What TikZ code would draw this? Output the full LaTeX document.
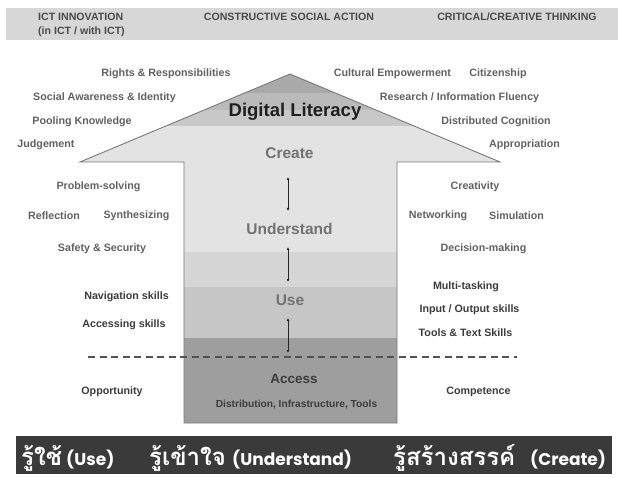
\documentclass[tikz,border=0pt]{standalone}
\usepackage{fontspec}
\setmainfont{Liberation Sans}
\newfontfamily\thaifont[Script=Thai]{Loma}
\newfontfamily\latfont{Poppins}
\usetikzlibrary{arrows.meta}
\definecolor{hdrband}{HTML}{D7D7D7}
\definecolor{tipc}{HTML}{A9A9A9}
\definecolor{dlc}{HTML}{BABABA}
\definecolor{dlc2}{HTML}{C8C8C8}
\definecolor{crc}{HTML}{E3E3E3}
\definecolor{unc}{HTML}{D6D6D6}
\definecolor{usc}{HTML}{C6C6C6}
\definecolor{acc}{HTML}{9E9E9E}
\definecolor{edge}{HTML}{7A7A7A}
\definecolor{labc}{HTML}{626262}
\definecolor{labd}{HTML}{3C3C3C}
\definecolor{hdrc}{HTML}{4A4A4A}
\definecolor{levc}{HTML}{727272}
\definecolor{bandc}{HTML}{3A3A3A}
\begin{document}
\begin{tikzpicture}[x=1pt,y=-1pt,
  lab/.style={inner sep=0pt, text=labc, font=\fontsize{10.7}{12}\selectfont\bfseries},
  labdk/.style={lab, text=labd},
  hdr/.style={inner sep=0pt, text=hdrc, font=\fontsize{10.6}{12}\selectfont\bfseries},
  lev/.style={inner sep=0pt, text=levc, font=\fontsize{15.5}{17}\selectfont\bfseries},
  thai/.style={inner sep=0pt, text=white, anchor=base west, font=\thaifont\fontsize{24}{26}\selectfont\bfseries},
  thlat/.style={inner sep=0pt, text=white, anchor=base west, font=\latfont\fontsize{17}{20}\selectfont\bfseries},
  link/.style={line width=0.6pt, black!85, {Latex[length=3pt,width=3pt]}-{Latex[length=3pt,width=3pt]}},
  dashline/.style={line width=1.7pt, black!68, dash pattern=on 7pt off 4.5pt}
]
\useasboundingbox (0,0) rectangle (618,478);
\fill[white] (0,0) rectangle (618,478);
% header band
\fill[hdrband] (6,8) rectangle (618,40);
\node[hdr, anchor=west] (ict) at (38,17) {ICT INNOVATION};
\node[hdr, anchor=west] (ict2) at (38,32) {(in ICT / with ICT)};
\node[hdr] (csa) at (289,17) {CONSTRUCTIVE SOCIAL ACTION};
\node[hdr] (cct) at (517,17) {CRITICAL/CREATIVE THINKING};
% arrow fill bands
\begin{scope}
\clip (290,74) -- (500,162) -- (397,162) -- (397,423) -- (184,423) -- (184,162) -- (80,162) -- cycle;
\fill[tipc] (0,60) rectangle (618,93);
\fill[dlc] (0,93) rectangle (618,110);
\fill[dlc2] (0,110) rectangle (618,126);
\fill[crc] (0,126) rectangle (618,252);
\fill[unc] (0,252) rectangle (618,287);
\fill[usc] (0,287) rectangle (618,338);
\fill[acc] (0,338) rectangle (618,430);
\end{scope}
\draw[edge, line width=0.9pt, line join=miter] (290,74) -- (500,162) -- (397,162) -- (397,423) -- (184,423) -- (184,162) -- (80,162) -- cycle;
% dashed line
\coordinate (dl) at (88,357);
\coordinate (dr) at (517,357);
\draw[dashline] (dl) -- (dr);
% arrow texts
\node[inner sep=0pt, text=black!88, font=\fontsize{18.5}{20}\selectfont\bfseries] (diglit) at (295,112) {Digital Literacy};
\node[lev] (create) at (289.5,153) {Create};
\node[lev] (underst) at (289.5,229) {Understand};
\node[lev] (use) at (290,300) {Use};
\node[inner sep=0pt, text=labd, font=\fontsize{13.5}{15}\selectfont\bfseries] (access) at (294,379) {Access};
\node[inner sep=0pt, text=labd, font=\fontsize{10.2}{12}\selectfont\bfseries] (dist) at (296.5,405) {Distribution, Infrastructure, Tools};
% level connectors
\coordinate (c1a) at (288,177); \coordinate (c1b) at (288,211);
\coordinate (c2a) at (288,247); \coordinate (c2b) at (288,282);
\coordinate (c3a) at (288,318); \coordinate (c3b) at (288,353);
\draw[link] (c1a) -- (c1b);
\draw[link] (c2a) -- (c2b);
\draw[link] (c3a) -- (c3b);
% left labels
\node[lab] (rights) at (166,74) {Rights \& Responsibilities};
\node[lab] (social) at (104.5,98) {Social Awareness \& Identity};
\node[lab] (pooling) at (82,122) {Pooling Knowledge};
\node[lab] (judge) at (46,145) {Judgement};
\node[lab] (problem) at (98.5,187) {Problem-solving};
\node[lab] (reflect) at (54,216) {Reflection};
\node[lab] (synth) at (136.5,216) {Synthesizing};
\node[lab] (safety) at (102,249) {Safety \& Security};
\node[labdk] (navig) at (126.5,297) {Navigation skills};
\node[labdk] (accsk) at (124,325) {Accessing skills};
\node[labdk] (opport) at (112,392) {Opportunity};
% right labels
\node[lab] (cultural) at (392.5,74) {Cultural Empowerment};
\node[lab] (citizen) at (498,74) {Citizenship};
\node[lab] (research) at (459.5,98) {Research / Information Fluency};
\node[lab] (distcog) at (496,122) {Distributed Cognition};
\node[lab] (approp) at (524.5,145) {Appropriation};
\node[lab] (creativ) at (475,187) {Creativity};
\node[lab] (network) at (438,216) {Networking};
\node[lab] (simul) at (516.5,216) {Simulation};
\node[lab] (decision) at (483.5,249) {Decision-making};
\node[labdk] (multi) at (466,287) {Multi-tasking};
\node[labdk] (inout) at (469.5,310) {Input / Output skills};
\node[labdk] (tools) at (465.5,333) {Tools \& Text Skills};
\node[labdk] (compet) at (478.5,392) {Competence};
% bottom band
\fill[bandc] (16,436) rectangle (612,474);
\node[thai] (th1) at (21,465) {รู้ใช้};
\node[thlat] (th1l) at (66,465) {(Use)};
\node[thai] (th2) at (149,465) {รู้เข้าใจ};
\node[thlat] (th2l) at (232,465) {(Understand)};
\node[thai] (th3) at (393,465) {รู้สร้างสรรค์};
\node[thlat] (th3l) at (530,465) {(Create)};
\end{tikzpicture}
\end{document}
